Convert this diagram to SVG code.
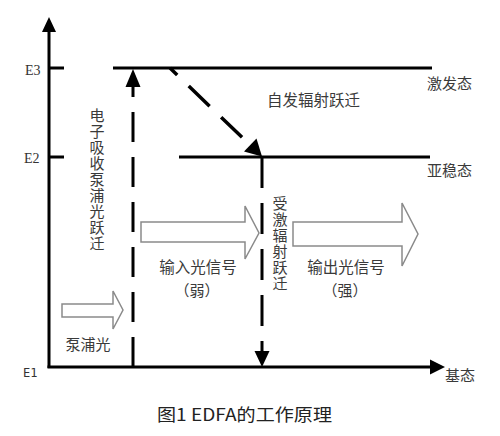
<svg xmlns="http://www.w3.org/2000/svg" width="500" height="436" viewBox="0 0 500 436">
<style>
.axis{stroke:#000;stroke-width:3;fill:none}
.lvl{stroke:#000;stroke-width:3;fill:none}
.dash{stroke:#000;stroke-width:3;fill:none;stroke-dasharray:30 15}
.head{fill:#000;stroke:none}
.hollow{fill:#fff;stroke:#8a8a8a;stroke-width:1.5;stroke-linejoin:miter}
.cn{font-family:"Noto Sans CJK SC","Noto Sans",sans-serif;font-size:15px;fill:#3a3a3a}
.vert{writing-mode:vertical-rl;letter-spacing:1px}
.lab{font-family:"Liberation Serif",serif;font-size:14px;fill:#333}
.cap{font-family:"Noto Sans CJK SC","DejaVu Sans",sans-serif;font-size:17px;fill:#222}
</style>
<rect width="500" height="436" fill="#fff"/>

<g id="axes">
  <line class="axis" x1="49" y1="368" x2="49" y2="30"/>
  <polygon class="head" points="49,17 42,32 56,32"/>
  <line class="axis" x1="47.5" y1="367" x2="432" y2="367"/>
  <polygon class="head" points="445,367 430,359.5 430,374.5"/>
  <line class="axis" x1="49" y1="68" x2="64" y2="68"/>
  <line class="axis" x1="49" y1="157" x2="64" y2="157"/>
  <text class="lab" x="25" y="75">E3</text>
  <text class="lab" x="24" y="163">E2</text>
  <text class="lab" x="23" y="377" style="font-family:'DejaVu Sans Mono',monospace;font-size:12px">E1</text>
  <text class="cn" x="445" y="381">基态</text>
</g>

<g id="level-E3">
  <line class="lvl" x1="113" y1="68" x2="432" y2="68"/>
  <text class="cn" x="427" y="89">激发态</text>
</g>

<g id="level-E2">
  <line class="lvl" x1="179" y1="157" x2="430" y2="157"/>
  <text class="cn" x="427" y="176">亚稳态</text>
</g>

<g id="connectors">
  <g id="pump-transition">
    <path class="dash" d="M133,367 L133,85"/>
    <polygon class="head" points="133,69 125.5,87 140.5,87"/>
  </g>
  <g id="spontaneous-transition">
    <path d="M170,68 L251,146" stroke="#000" stroke-width="3.5" fill="none" stroke-dasharray="29 16" stroke-dashoffset="19"/>
    <polygon class="head" points="262,156.5 244,151.5 256.5,138.5"/>
  </g>
  <g id="stimulated-transition">
    <path d="M262,157 L262,353" stroke="#000" stroke-width="3" fill="none" stroke-dasharray="31 15"/>
    <polygon class="head" points="262,367 254.5,351 269.5,351"/>
  </g>
</g>

<g id="label-pump-transition">
  <text class="cn vert" x="97" y="107.5">电子吸收泵浦光跃迁</text>
</g>

<g id="label-spontaneous">
  <text class="cn" x="267" y="106" style="font-size:15.5px">自发辐射跃迁</text>
</g>

<g id="label-stimulated">
  <text class="cn vert" x="280" y="195.5">受激辐射跃迁</text>
</g>

<g id="pump-light">
  <polygon class="hollow" points="62,304 113,304 113,291 123,310 113,329 113,317 62,317"/>
  <text class="cn" x="88" y="350" text-anchor="middle">泵浦光</text>
</g>

<g id="input-signal">
  <polygon class="hollow" points="141,222 245,222 245,206 259,233 245,259 245,242 141,242"/>
  <text class="cn" x="198" y="273" text-anchor="middle" style="font-size:15.5px">输入光信号</text>
  <text class="cn" x="197" y="296" text-anchor="middle">（弱）</text>
</g>

<g id="output-signal">
  <polygon class="hollow" points="293,222 402,222 402,203 418,234 402,266 402,246 293,246"/>
  <text class="cn" x="346" y="273" text-anchor="middle" style="font-size:15.5px">输出光信号</text>
  <text class="cn" x="345" y="296" text-anchor="middle">（强）</text>
</g>

<g id="caption">
  <text class="cap" x="157" y="421" textLength="175" lengthAdjust="spacingAndGlyphs">图1 EDFA的工作原理</text>
</g>
</svg>
